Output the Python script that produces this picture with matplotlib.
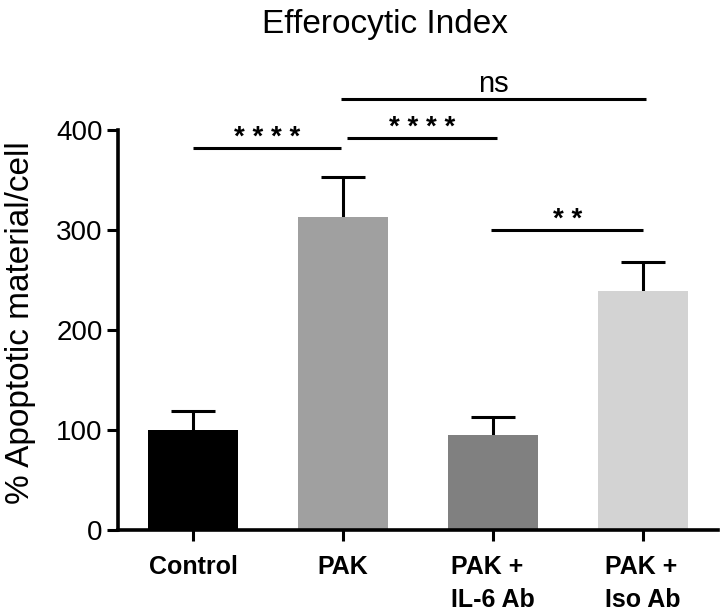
import matplotlib
matplotlib.use("Agg")
import matplotlib.pyplot as plt
import numpy as np

plt.rcParams['font.family'] = ['Liberation Sans', 'DejaVu Sans']

groups = ["Control", "PAK", "PAK +\nIL-6 Ab", "PAK +\nIso Ab"]
means = [100, 313, 95, 239]
errs = [19, 40, 18, 29]
colors = ["#000000", "#a0a0a0", "#808080", "#d3d3d3"]

# significance brackets: (x start, x end, height, label)
sig_x0 = [0.0, 1.03, 0.99, 1.99]
sig_x1 = [0.99, 2.03, 3.02, 3.0]
sig_y = [382, 392, 431, 300]
sig_txt = ["* * * *", "* * * *", "ns", "* *"]

fig = plt.figure(figsize=(7.2, 6.15), dpi=100)
ax = fig.add_axes([0.164, 0.138, 0.833, 0.651])

x = np.arange(len(groups))
ax.bar(x, means, width=0.6, color=colors, zorder=2)
# error bars behind the bars so only the upper half shows
ax.errorbar(x, means, yerr=errs, fmt='none',
            ecolor='black', elinewidth=2.2, capsize=16, capthick=2.2, zorder=1)

for x0, x1, y, t in zip(sig_x0, sig_x1, sig_y, sig_txt):
    ax.plot([x0, x1], [y, y], color='black', lw=2.2, clip_on=False,
            solid_capstyle='butt')
    xm = (x0 + x1) / 2
    if t == "ns":
        ax.text(2.0, y + 1, t, ha='center', va='bottom', fontsize=21)
    else:
        ax.text(xm, y - 3, t, ha='center', va='bottom', fontsize=20,
                fontweight='bold')

ax.set_xlim(-0.5, 3.5)
ax.set_ylim(0, 400)
ax.set_yticks([0, 100, 200, 300, 400])
ax.set_xticks(x)
ax.set_xticklabels(groups, fontsize=18, fontweight='bold',
                   multialignment='left', linespacing=1.45)
ax.tick_params(axis='y', labelsize=20, width=2.2, length=8, pad=3)
ax.tick_params(axis='x', width=2.2, length=8, pad=10)
for s in ['top', 'right']:
    ax.spines[s].set_visible(False)
for s in ['left', 'bottom']:
    ax.spines[s].set_linewidth(2.6)
ax.set_ylabel("% Apoptotic material/cell", fontsize=24)
ax.yaxis.set_label_coords(-0.137, 0.518)

fig.text(0.535, 0.96, "Efferocytic Index", ha='center', va='center',
         fontsize=24)

fig.savefig("out.png", dpi=100)
